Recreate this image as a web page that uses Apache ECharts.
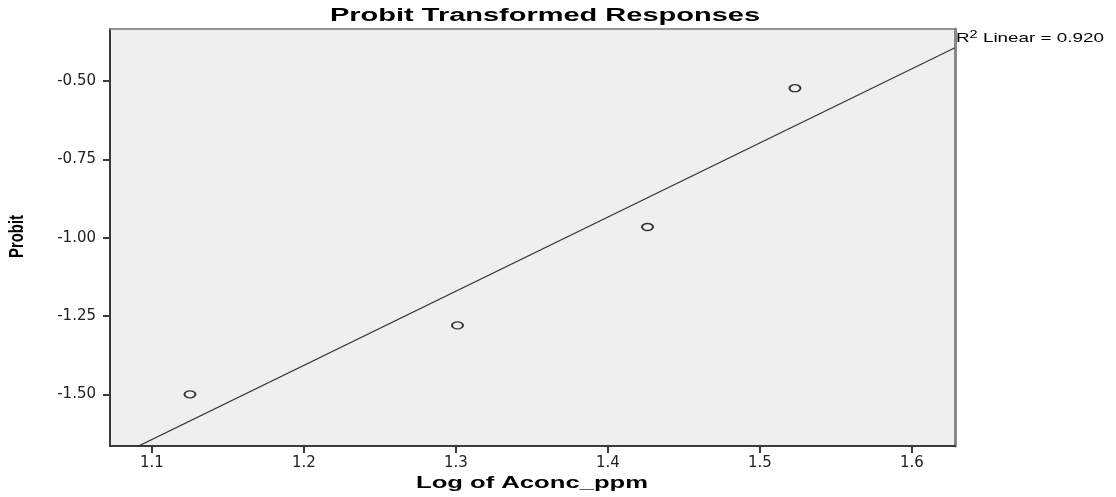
<!DOCTYPE html>
<html><head><meta charset="utf-8">
<script src="https://cdn.jsdelivr.net/npm/echarts@6/dist/echarts.min.js"></script>
<style>html,body{margin:0;padding:0;background:#fff}#c{width:1116px;height:497px}</style>
</head><body><div id="c"></div>
<script>
// Data
const logConc = [1.125, 1.301, 1.426, 1.523];
const probit = [-1.50, -1.28, -0.966, -0.523];
const xTicks = [1.1, 1.2, 1.3, 1.4, 1.5, 1.6];
const yTicks = [-1.50, -1.25, -1.00, -0.75, -0.50];
const titleText = 'Probit Transformed Responses';
const xName = 'Log of Aconc_ppm';
const yName = 'Probit';
const r2Text = '0.920';

const xMin = 1.0724, xMax = 1.6283, yMin = -1.665, yMax = -0.334;

// least squares fit
const n = logConc.length;
const mx = logConc.reduce((a,b)=>a+b,0)/n, my = probit.reduce((a,b)=>a+b,0)/n;
let sxy=0,sxx=0; for(let i=0;i<n;i++){sxy+=(logConc[i]-mx)*(probit[i]-my);sxx+=(logConc[i]-mx)**2;}
const slope=sxy/sxx, icpt=my-slope*mx;
const fitLine=[[xMin, icpt+slope*xMin],[xMax, icpt+slope*xMax]];

const cv=document.createElement('canvas').getContext('2d');
function scaleFor(text,font,target){cv.font=font;return target/cv.measureText(text).width;}
const F='"Liberation Sans", Arial, sans-serif';
const LF='"DejaVu Sans", sans-serif';

const chart=echarts.init(document.getElementById('c'),null,{renderer:'canvas'});
chart.setOption({
  animation:false,
  backgroundColor:'#fff',
  grid:{left:110,top:29,right:161,bottom:51,show:true,backgroundColor:'#efefef',borderWidth:0},
  xAxis:[{type:'value',min:xMin,max:xMax,
    axisLine:{show:true,onZero:false,lineStyle:{color:'#3a3a3a',width:2}},
    axisTick:{show:true,customValues:xTicks,length:7,lineStyle:{color:'#3a3a3a',width:2}},
    axisLabel:{customValues:xTicks,margin:10,color:'#222',fontFamily:LF,fontSize:15,formatter:v=>v.toFixed(1)},
    splitLine:{show:false}},
    {type:'value',position:'top',min:xMin,max:xMax,axisLine:{show:true,onZero:false,lineStyle:{color:'#777',width:1.5}},axisTick:{show:false},axisLabel:{show:false},splitLine:{show:false}}],
  yAxis:[{type:'value',min:yMin,max:yMax,
    axisLine:{show:true,onZero:false,lineStyle:{color:'#3a3a3a',width:2}},
    axisTick:{show:true,customValues:yTicks,length:7,lineStyle:{color:'#3a3a3a',width:2}},
    axisLabel:{customValues:yTicks,margin:14,color:'#222',fontFamily:LF,fontSize:15,formatter:v=>v.toFixed(2)},
    splitLine:{show:false}},
    {type:'value',position:'right',min:yMin,max:yMax,axisLine:{show:true,onZero:false,lineStyle:{color:'#888',width:3}},axisTick:{show:false},axisLabel:{show:false},splitLine:{show:false}}],
  series:[
    {type:'line',data:fitLine,symbol:'none',clip:true,lineStyle:{color:'#333',width:1.2},z:2},
    {type:'scatter',data:logConc.map((x,i)=>[x,probit[i]]),symbol:'circle',symbolSize:[11,7],
      itemStyle:{color:'#efefef',borderColor:'#333',borderWidth:1.6,opacity:1},z:3}
  ],
  graphic:[
    {type:'text',x:545,y:16,style:{text:titleText,font:'bold 18px '+F,textAlign:'center',textVerticalAlign:'middle',fill:'#000'},
      scaleX:scaleFor(titleText,'bold 18px '+F,430)},
    {type:'text',x:532,y:484,style:{text:xName,font:'bold 16px '+F,textAlign:'center',textVerticalAlign:'middle',fill:'#000'},
      scaleX:scaleFor(xName,'bold 16px '+F,232)},
    {type:'text',x:17.5,y:236.5,rotation:Math.PI/2,style:{text:yName,font:'bold 20px '+F,textAlign:'center',textVerticalAlign:'middle',fill:'#000'},
      scaleX:scaleFor(yName,'bold 20px '+F,43)},
    {type:'text',x:956,y:38,scaleX:1.45,style:{text:'{r|R}{s|2}{r| Linear = '+r2Text+'}',textVerticalAlign:'middle',
      rich:{r:{fontFamily:F,fontSize:13,color:'#222'},s:{fontFamily:F,fontSize:10,color:'#222',verticalAlign:'top',padding:[0,0,6,0]}}}}
  ]
});
</script></body></html>
